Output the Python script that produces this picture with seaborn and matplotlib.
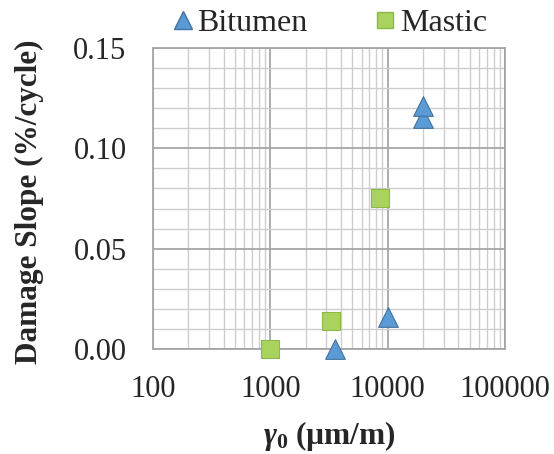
import matplotlib
matplotlib.use("Agg")
import matplotlib.pyplot as plt
import matplotlib.ticker as mticker
import seaborn as sns
import pandas as pd

# data
bitumen_strain = [3550, 10000, 20000, 20000]
bitumen_slope = [0.000, 0.016, 0.115, 0.121]
mastic_strain = [1000, 3300, 8600]
mastic_slope = [0.000, 0.014, 0.075]
x_ticks = [100, 1000, 10000, 100000]

bitumen = pd.DataFrame({'strain': bitumen_strain, 'slope': bitumen_slope})
mastic = pd.DataFrame({'strain': mastic_strain, 'slope': mastic_slope})

sns.set_style("white")
plt.rcParams['font.family'] = ['Liberation Serif', 'DejaVu Serif']
plt.rcParams['mathtext.fontset'] = 'custom'
plt.rcParams['mathtext.it'] = 'Liberation Serif:italic:bold'
plt.rcParams['mathtext.rm'] = 'Liberation Serif:bold'

fig = plt.figure(figsize=(5.54, 4.54), dpi=100)
ax = fig.add_axes([153 / 554, 1 - 349 / 454, 352 / 554, 301 / 454])

# Bitumen triangles
sns.scatterplot(data=bitumen, x='strain', y='slope', marker='^', s=200,
                color='#5B9BD5', edgecolor='#41719C', linewidth=0.8,
                ax=ax, clip_on=False, zorder=5)
# Mastic squares
sns.scatterplot(data=mastic, x='strain', y='slope', marker='s', s=155,
                color='#A9D35E', edgecolor='#8CB84A', linewidth=0.8,
                ax=ax, clip_on=False, zorder=5)

ax.set_xscale('log')
ax.set_xlim(100, 100000)
ax.set_ylim(0, 0.15)
minor = [m * t for t in x_ticks[:-1] for m in range(2, 10)]
ax.xaxis.set_major_locator(mticker.FixedLocator(x_ticks))
ax.xaxis.set_minor_locator(mticker.FixedLocator(minor))
ax.xaxis.set_minor_formatter(mticker.NullFormatter())
ax.xaxis.set_major_formatter(mticker.FuncFormatter(lambda v, p: f'{int(v)}'))
ax.yaxis.set_major_locator(mticker.MultipleLocator(0.05))
ax.yaxis.set_minor_locator(mticker.MultipleLocator(0.01))
ax.yaxis.set_major_formatter(mticker.FormatStrFormatter('%.2f'))
ax.grid(which='major', color='#a6a6a6', linewidth=1.3)
ax.grid(which='minor', color='#cdcdcd', linewidth=1.0)
ax.set_axisbelow(True)
for s in ax.spines.values():
    s.set_color('#a6a6a6')
    s.set_linewidth(1.3)

ax.tick_params(axis='both', which='both', length=0, labelsize=22, pad=19)
ax.set_xlabel(r'$\gamma_0$ (µm/m)', fontsize=22.5, fontweight='bold')
ax.set_ylabel('Damage Slope (%/cycle)', fontsize=22.5, fontweight='bold')
ax.xaxis.set_label_coords(0.5, -0.233)
ax.yaxis.set_label_coords(-0.31, 0.49)

handles = [
    plt.Line2D([], [], marker='^', linestyle='none', markersize=13,
               markerfacecolor='#5B9BD5', markeredgecolor='#41719C'),
    plt.Line2D([], [], marker='s', linestyle='none', markersize=11,
               markerfacecolor='#A9D35E', markeredgecolor='#8CB84A'),
]
ax.legend(handles, ['Bitumen', 'Mastic'], loc='center', bbox_to_anchor=(0.496, 1.083),
          ncol=2, frameon=False, fontsize=23, handletextpad=0.0, columnspacing=2.0,
          handlelength=0.9, borderaxespad=0, borderpad=0)

fig.savefig('out.png', dpi=100)
